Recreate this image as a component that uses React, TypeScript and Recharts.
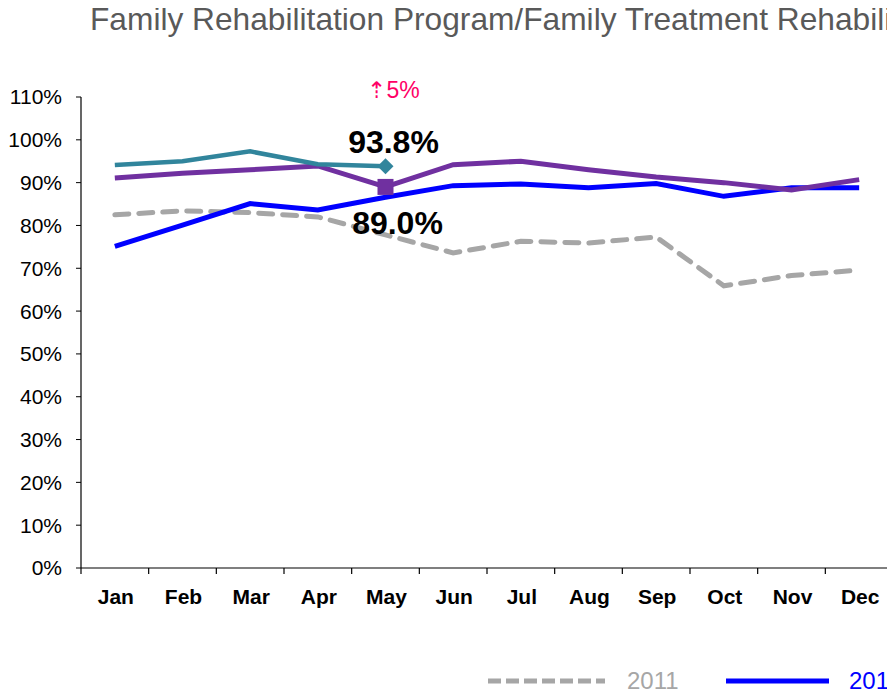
import React from 'react';
import { LineChart, Line, XAxis, YAxis, Legend, LabelList } from 'recharts';

const months = ['Jan', 'Feb', 'Mar', 'Apr', 'May', 'Jun', 'Jul', 'Aug', 'Sep', 'Oct', 'Nov', 'Dec'];
const y2011 = [82.5, 83.4, 83.0, 82.0, 77.8, 73.6, 76.3, 75.9, 77.3, 65.9, 68.3, 69.6];
const y2012 = [75.1, 80.1, 85.1, 83.6, 86.6, 89.3, 89.7, 88.8, 89.8, 86.8, 88.8, 88.8];
const y2013 = [91.1, 92.2, 93.0, 93.9, 89.0, 94.2, 95.0, 93.0, 91.3, 90.0, 88.3, 90.7];
const y2014 = [94.1, 95.0, 97.3, 94.3, 93.8, null, null, null, null, null, null, null];
const yTicks = [0, 10, 20, 30, 40, 50, 60, 70, 80, 90, 100, 110];
const titleText = 'Family Rehabilitation Program/Family Treatment Rehabilitation Program';
const changeText = '\u21E15%';
const highlightIndex = 4;

const series = [
  { key: 'y2011', name: '2011', color: '#A6A6A6', dashed: true },
  { key: 'y2012', name: '2012', color: '#0000FF', dashed: false },
  { key: 'y2013', name: '2013', color: '#7030A0', dashed: false },
  { key: 'y2014', name: '2014', color: '#31859C', dashed: false },
];

const data = months.map((m, i) => ({
  month: m,
  y2011: y2011[i],
  y2012: y2012[i],
  y2013: y2013[i],
  y2014: y2014[i],
}));

const FONT = '"Liberation Sans", Arial, sans-serif';
const X_LABEL_GAP = 21;

const MonthTick = (props: any) => {
  const { x, y, payload, index, width, visibleTicksCount } = props;
  const count = visibleTicksCount || months.length;
  const half = width / count / 2;
  const axisY = y - X_LABEL_GAP;
  return (
    <g>
      <line x1={x - half} x2={x - half} y1={axisY} y2={axisY + 6} stroke="#000" strokeWidth={1.2} />
      {index === count - 1 ? (
        <line x1={x + half} x2={x + half} y1={axisY} y2={axisY + 6} stroke="#000" strokeWidth={1.2} />
      ) : null}
      <text
        x={x + 1}
        y={y}
        dy="0.71em"
        textAnchor="middle"
        fontSize={21}
        fontWeight="bold"
        fill="#000"
        fontFamily={FONT}
      >
        {payload.value}
      </text>
    </g>
  );
};

const diamondDot = (props: any) => {
  const { cx, cy, index } = props;
  if (index !== highlightIndex || cx == null || cy == null) return <g key={`d${index}`} />;
  const r = 8;
  return (
    <path
      key={`d${index}`}
      d={`M${cx},${cy - r} L${cx + r},${cy} L${cx},${cy + r} L${cx - r},${cy} Z`}
      fill="#31859C"
    />
  );
};

const squareDot = (props: any) => {
  const { cx, cy, index } = props;
  if (index !== highlightIndex || cx == null || cy == null) return <g key={`s${index}`} />;
  const h = 8;
  return <rect key={`s${index}`} x={cx - h} y={cy - h} width={2 * h} height={2 * h} fill="#7030A0" />;
};

const label2014 = (props: any) => {
  const { x, y, index, value } = props;
  if (index !== highlightIndex || value == null) return null;
  return (
    <g>
      <text x={x + 8} y={y - 68} textAnchor="middle" fontSize={23} fill="#FF0066" fontFamily={FONT}>
        {changeText}
      </text>
      <text x={x + 8} y={y - 13} textAnchor="middle" fontSize={32} fontWeight="bold" fill="#000" fontFamily={FONT}>
        {`${Number(value).toFixed(1)}%`}
      </text>
    </g>
  );
};

const label2013 = (props: any) => {
  const { x, y, index, value } = props;
  if (index !== highlightIndex || value == null) return null;
  return (
    <text x={x + 12} y={y + 47} textAnchor="middle" fontSize={32} fontWeight="bold" fill="#000" fontFamily={FONT}>
      {`${Number(value).toFixed(1)}%`}
    </text>
  );
};

const LegendContent = () => (
  <div style={{ display: 'flex', alignItems: 'center', whiteSpace: 'nowrap', fontFamily: FONT }}>
    {series.map((s) => {
      const lw = s.dashed ? 117 : 103;
      return (
        <div key={s.key} style={{ display: 'flex', alignItems: 'center', width: 238 }}>
          <svg width={lw} height={10} style={{ display: 'block' }}>
            <line
              x1={0}
              y1={5}
              x2={lw}
              y2={5}
              stroke={s.color}
              strokeWidth={5}
              strokeDasharray={s.dashed ? '13 5' : undefined}
            />
          </svg>
          <span style={{ marginLeft: s.dashed ? 22 : 20, fontSize: 24, color: s.color, lineHeight: '30px' }}>
            {s.name}
          </span>
        </div>
      );
    })}
  </div>
);

export default function App() {
  return (
    <div style={{ position: 'relative', width: 887, height: 683, overflow: 'hidden', fontFamily: FONT }}>
      <div
        style={{
          position: 'absolute',
          left: 82,
          top: -4,
          fontSize: 31.7,
          lineHeight: '30px',
          color: '#595959',
          whiteSpace: 'nowrap',
          zIndex: 2,
        }}
      >
        {titleText}
      </div>
      <LineChart
        width={1120}
        height={683}
        data={data}
        margin={{ top: 89, right: 235, bottom: 53, left: 13 }}
      >
        <XAxis
          dataKey="month"
          scale="band"
          height={40}
          axisLine={{ stroke: '#000', strokeWidth: 1.2 }}
          tickLine={false}
          tickSize={0}
          tickMargin={X_LABEL_GAP}
          interval={0}
          tick={<MonthTick />}
        />
        <YAxis
          domain={[0, 110]}
          ticks={yTicks}
          width={60}
          interval={0}
          axisLine={{ stroke: '#000', strokeWidth: 1.2 }}
          tickLine={{ stroke: '#000' }}
          tickSize={5}
          tickMargin={14}
          tickFormatter={(v: number) => `${v}%`}
          tick={{ fontSize: 21, fill: '#000', fontFamily: FONT }}
        />
        <Legend
          verticalAlign="bottom"
          content={<LegendContent />}
          wrapperStyle={{ left: 480, top: 658, width: 1000, height: 30 }}
        />
        <Line
          dataKey="y2011"
          name="2011"
          stroke="#A6A6A6"
          strokeWidth={5}
          strokeDasharray="14 10"
          strokeLinecap="round"
          dot={false}
          isAnimationActive={false}
        />
        <Line
          dataKey="y2012"
          name="2012"
          stroke="#0000FF"
          strokeWidth={5}
          dot={false}
          isAnimationActive={false}
        />
        <Line
          dataKey="y2013"
          name="2013"
          stroke="#7030A0"
          strokeWidth={5}
          dot={squareDot}
          isAnimationActive={false}
        >
          <LabelList dataKey="y2013" content={label2013} />
        </Line>
        <Line
          dataKey="y2014"
          name="2014"
          stroke="#31859C"
          strokeWidth={4.5}
          dot={diamondDot}
          isAnimationActive={false}
        >
          <LabelList dataKey="y2014" content={label2014} />
        </Line>
      </LineChart>
    </div>
  );
}
